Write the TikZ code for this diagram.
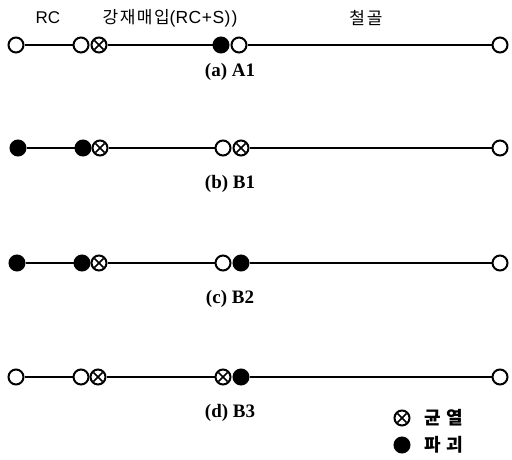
\documentclass[tikz,border=0pt]{standalone}
\usepackage{fontspec}
\setmainfont{Liberation Serif}
\setsansfont{Liberation Sans}
\newfontfamily\kr{Noto Sans CJK KR}
\begin{document}
\begin{tikzpicture}[x=1pt,y=-1pt,
  dotbase/.style={circle,draw,line width=2pt,minimum size=15pt,inner sep=0pt},
  opn/.style={dotbase,fill=white},
  fil/.style={dotbase,fill=black},
  crk/.style={dotbase,fill=white,path picture={
     \draw[line width=1.6pt] ([shift={(-4.6pt,-4.6pt)}]path picture bounding box.center) -- ([shift={(4.6pt,4.6pt)}]path picture bounding box.center);
     \draw[line width=1.6pt] ([shift={(-4.6pt,4.6pt)}]path picture bounding box.center) -- ([shift={(4.6pt,-4.6pt)}]path picture bounding box.center);}},
  seg/.style={line width=1.8pt},
  captxt/.style={font=\fontsize{19}{22}\selectfont\bfseries},
  lbl/.style={font=\sffamily\fontsize{17}{20}\selectfont},
  klbl/.style={font=\kr\fontsize{17}{20}\selectfont},
  kbold/.style={font=\kr\bfseries\fontsize{18}{20}\selectfont,anchor=west}]
\useasboundingbox (0,0) rectangle (512,459);
% top labels
\node[lbl] (tRC) at (48,18) {RC};
\node[klbl] (tRS) at (170,18) {강\hspace{1.5pt}재\hspace{1.5pt}매\hspace{1.5pt}입\sffamily\fontsize{17.5}{20}\selectfont(R\hspace{0.5pt}C\hspace{0.5pt}+\hspace{0.5pt}S\hspace{0.5pt})\hspace{1pt})};
\node[klbl] (tS) at (366,18) {철\hspace{2pt}골};
% row a
\node[opn] (a1) at (16,45) {};
\node[opn] (a2) at (81,45) {};
\node[crk] (a3) at (99,45) {};
\node[fil] (a4) at (221,45) {};
\node[opn] (a5) at (239,45) {};
\node[opn] (a6) at (500,45) {};
\draw[seg] (a1) -- (a2) (a3) -- (a4) (a5) -- (a6);
\node[captxt] (ca) at (230,72) {(a) A1};
% row b
\node[fil] (b1) at (18,148) {};
\node[fil] (b2) at (83,148) {};
\node[crk] (b3) at (100,148) {};
\node[opn] (b4) at (223,148) {};
\node[crk] (b5) at (241,148) {};
\node[opn] (b6) at (500,148) {};
\draw[seg] (b1) -- (b2) (b3) -- (b4) (b5) -- (b6);
\node[captxt] (cb) at (230,184) {(b) B1};
% row c
\node[fil] (c1) at (17,263) {};
\node[fil] (c2) at (82,263) {};
\node[crk] (c3) at (99,263) {};
\node[opn] (c4) at (223,263) {};
\node[fil] (c5) at (241,263) {};
\node[opn] (c6) at (500,263) {};
\draw[seg] (c1) -- (c2) (c3) -- (c4) (c5) -- (c6);
\node[captxt] (cc) at (230,299) {(c) B2};
% row d
\node[opn] (d1) at (16,377) {};
\node[opn] (d2) at (81,377) {};
\node[crk] (d3) at (98,377) {};
\node[crk] (d4) at (223,377) {};
\node[fil] (d5) at (241,377) {};
\node[opn] (d6) at (500,377) {};
\draw[seg] (d1) -- (d2) (d3) -- (d4) (d5) -- (d6);
\node[captxt] (cd) at (230,413) {(d) B3};
% legend
\node[crk] (lc) at (402,418) {};
\node[kbold] (lct) at (421,418) {균\hspace{5pt}열};
\node[fil] (lf) at (402,445) {};
\node[kbold] (lft) at (421,445) {파\hspace{5pt}괴};
\end{tikzpicture}
\end{document}
